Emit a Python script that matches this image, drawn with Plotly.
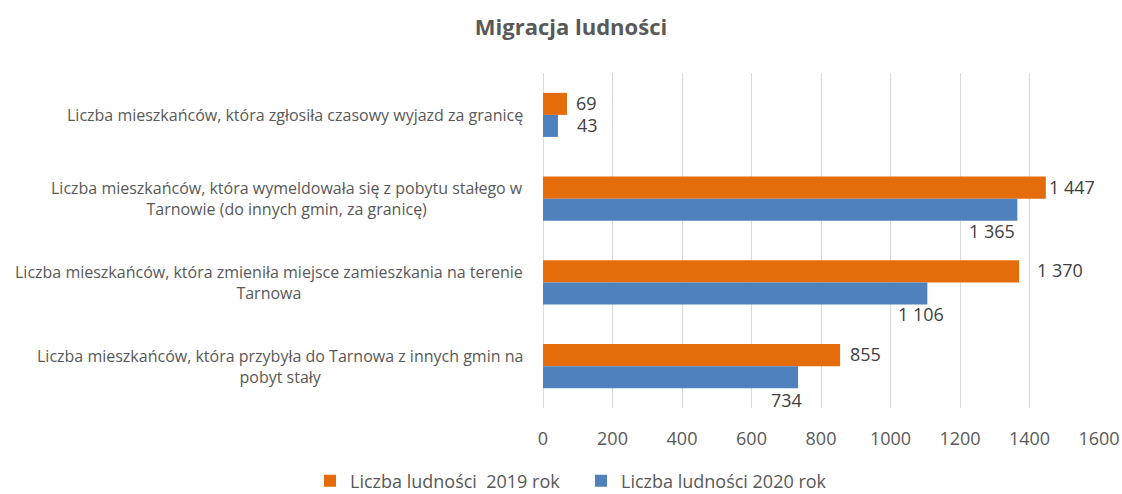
import plotly.graph_objects as go

categories = [
    "Liczba mieszkańców, która zgłosiła czasowy wyjazd za granicę",
    "Liczba mieszkańców, która wymeldowała się z pobytu stałego w<br>Tarnowie (do innych gmin, za granicę)",
    "Liczba mieszkańców, która zmieniła miejsce zamieszkania na terenie<br>Tarnowa",
    "Liczba mieszkańców, która przybyła do Tarnowa z innych gmin na<br>pobyt stały",
]
series_2019 = [69, 1447, 1370, 855]
series_2020 = [43, 1365, 1106, 734]
name_2019 = "Liczba ludności\u00a0 2019 rok"
name_2020 = "Liczba ludności 2020 rok"
x_ticks = [0, 200, 400, 600, 800, 1000, 1200, 1400, 1600]

ORANGE = "#E46C0A"
BLUE = "#4F81BD"
TXT = "#595959"
FONT = "Open Sans"

W, H = 1122, 494


def fmt(v):
    return f"{v:,}".replace(",", " ")


fig = go.Figure()
fig.add_trace(go.Bar(y=categories, x=series_2019, orientation="h", name=name_2019,
                     marker=dict(color=ORANGE, line=dict(width=0))))
fig.add_trace(go.Bar(y=categories, x=series_2020, orientation="h", name=name_2020,
                     marker=dict(color=BLUE, line=dict(width=0))))

# label placement styles (pixel offsets), per category
o_xshift = [7, 1, 16, 8]
b_style = [("left", 17, -10), ("right", 0, -32), ("center", -6, -32), ("center", -12, -34)]

ann = []
for i, c in enumerate(categories):
    ann.append(dict(x=0, y=c, xref="paper", yref="y", text=c, showarrow=False,
                    xanchor="right", yanchor="middle", align="center", xshift=-18,
                    font=dict(family=FONT, size=16, color=TXT)))
    ann.append(dict(x=series_2019[i], y=c, xref="x", yref="y", text=fmt(series_2019[i]),
                    showarrow=False, xanchor="left", yanchor="middle",
                    xshift=o_xshift[i], yshift=12,
                    font=dict(family=FONT, size=18, color="#404040")))
    xa, xs, ys = b_style[i]
    ann.append(dict(x=series_2020[i], y=c, xref="x", yref="y", text=fmt(series_2020[i]),
                    showarrow=False, xanchor=xa, yanchor="middle",
                    xshift=xs, yshift=ys,
                    font=dict(family=FONT, size=18, color="#404040")))

fig.update_layout(
    width=W, height=H,
    paper_bgcolor="white", plot_bgcolor="white",
    margin=dict(l=543, r=23, t=73, b=86, autoexpand=False),
    barmode="group", bargap=0.474, bargroupgap=0,
    title=dict(text="<b>Migracja ludności</b>", x=571 / W, xanchor="center",
               y=1 - 27 / H, yanchor="middle",
               font=dict(family=FONT, size=22, color=TXT)),
    xaxis=dict(range=[0, 1600], tickvals=x_ticks, ticktext=[str(t) for t in x_ticks],
               automargin=False, ticklabeloverflow="allow",
               showgrid=True, gridcolor="#D9D9D9", gridwidth=1,
               zeroline=True, zerolinecolor="#D9D9D9", zerolinewidth=1,
               showline=False, ticks="", ticklabelstandoff=18,
               tickfont=dict(family=FONT, size=18, color=TXT), fixedrange=True),
    yaxis=dict(autorange="reversed", showticklabels=False, showgrid=False,
               automargin=False,
               zeroline=False, showline=False, ticks="", fixedrange=True),
    showlegend=True,
    legend=dict(orientation="h", xref="container", yref="container",
                x=581 / W, xanchor="center", y=1 - 481 / H, yanchor="middle",
                font=dict(family=FONT, size=18, color=TXT),
                entrywidth=226, itemwidth=30, traceorder="normal"),
    annotations=ann,
)

fig.write_html("out.html", config={"displayModeBar": False},
               post_script="document.body.style.margin='0';document.body.style.overflow='hidden';")
